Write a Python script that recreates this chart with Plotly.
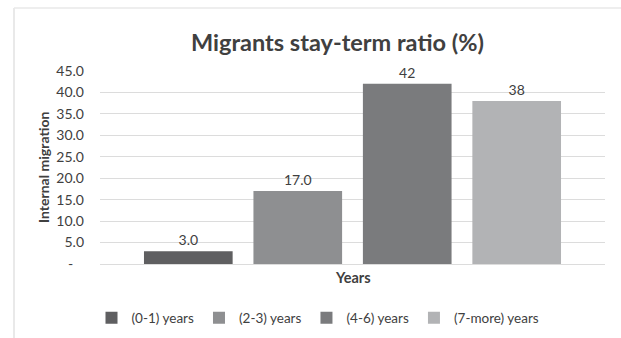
import plotly.graph_objects as go

categories = ["Years"]
series_names = ["(0-1) years", "(2-3) years", "(4-6) years", "(7-more) years"]
series_values = [3.0, 17.0, 42.0, 38.0]
value_labels = ["3.0", "17.0", "42", "38"]
bar_colors = ["#5f5f61", "#8e8f91", "#7a7b7d", "#b2b3b5"]
tick_vals = [0, 5, 10, 15, 20, 25, 30, 35, 40, 45]
tick_text = ["-   ", "5.0", "10.0", "15.0", "20.0", "25.0", "30.0", "35.0", "40.0", "45.0"]

FONT = "Lato"
fig = go.Figure()
for name, val, lab, col in zip(series_names, series_values, value_labels, bar_colors):
    fig.add_trace(go.Bar(
        x=categories, y=[val], name=name, text=[lab], textposition="outside",
        textfont=dict(family=FONT, size=14, color="#404040"),
        marker=dict(color=col, line=dict(width=0)), cliponaxis=False,
    ))

L, R, T, B = 100, 16, 71, 74
W, H = 621, 338
pw, ph = W - L - R, H - T - B

def px(x):
    return (x - L) / pw

def py(y):
    return (H - B - y) / ph

fig.update_layout(
    width=W, height=H,
    margin=dict(l=L, r=R, t=T, b=B, autoexpand=False),
    paper_bgcolor="white", plot_bgcolor="white",
    barmode="group", bargap=0.133, bargroupgap=0.19,
    showlegend=True,
    legend=dict(orientation="h", x=px(318), xanchor="center", y=py(318), yanchor="middle",
                font=dict(family=FONT, size=13.5, color="#404040"),
                itemwidth=30, itemsizing="constant", tracegroupgap=0,
                bgcolor="rgba(0,0,0,0)"),
    xaxis=dict(showticklabels=False, showgrid=False, zeroline=False, showline=False,
               fixedrange=True),
    yaxis=dict(range=[0, 45], tickvals=tick_vals, ticktext=tick_text,
               showgrid=True, gridcolor="#dcdcdc", gridwidth=1,
               zeroline=True, zerolinecolor="#dcdcdc", zerolinewidth=1,
               showline=False, ticks="", ticklabelstandoff=15,
               tickfont=dict(family=FONT, size=14, color="#404040")),
    annotations=[
        dict(text="<b>Migrants stay-term ratio (%)</b>", xref="paper", yref="paper",
             x=px(337), y=py(42), xanchor="center", yanchor="middle", showarrow=False,
             font=dict(family=FONT, size=23.5, color="#404040")),
        dict(text="<b>Internal migration</b>", xref="paper", yref="paper",
             x=px(43), y=py(168), xanchor="center", yanchor="middle", showarrow=False,
             textangle=-90, font=dict(family=FONT, size=14, color="#404040")),
        dict(text="<b>Years</b>", xref="paper", yref="paper",
             x=px(353), y=py(277), xanchor="center", yanchor="middle", showarrow=False,
             font=dict(family=FONT, size=14.5, color="#404040")),
    ],
    shapes=[
        dict(type="line", xref="paper", yref="paper", x0=px(14), x1=px(14), y0=py(8), y1=py(338),
             line=dict(color="#e2e2e2", width=1.5)),
        dict(type="line", xref="paper", yref="paper", x0=px(14), x1=px(621), y0=py(8), y1=py(8),
             line=dict(color="#e8e8e8", width=1.5)),
    ],
)

fig.write_html("out.html")
